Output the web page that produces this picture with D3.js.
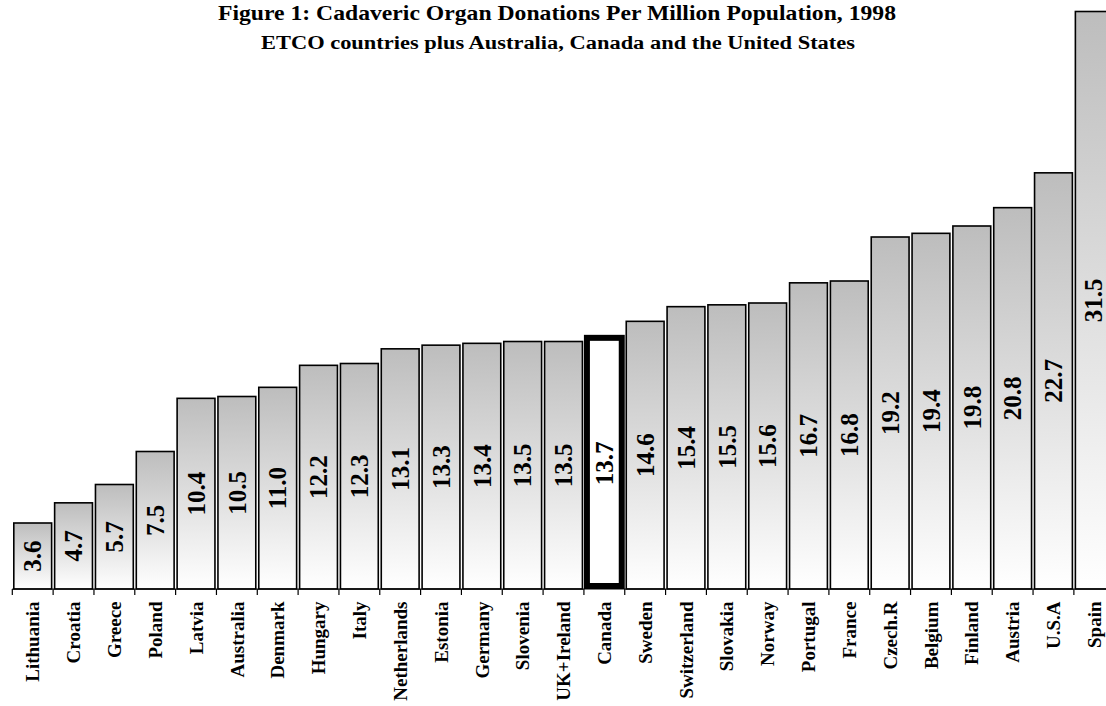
<!DOCTYPE html>
<html>
<head>
<meta charset="utf-8">
<script src="https://cdn.jsdelivr.net/npm/d3@7"></script>
<style>
  body { margin: 0; background: #fff; }
  svg { display: block; font-family: "Liberation Serif", "Times New Roman", serif; }
</style>
</head>
<body>
<div id="chart"></div>
<script>
// Data
const countries = ["Lithuania", "Croatia", "Greece", "Poland", "Latvia", "Australia", "Denmark",
  "Hungary", "Italy", "Netherlands", "Estonia", "Germany", "Slovenia", "UK+Ireland", "Canada",
  "Sweden", "Switzerland", "Slovakia", "Norway", "Portugal", "France", "Czech.R", "Belgium",
  "Finland", "Austria", "U.S.A", "Spain"];
const donations = [3.6, 4.7, 5.7, 7.5, 10.4, 10.5, 11.0, 12.2, 12.3, 13.1, 13.3, 13.4, 13.5, 13.5,
  13.7, 14.6, 15.4, 15.5, 15.6, 16.7, 16.8, 19.2, 19.4, 19.8, 20.8, 22.7, 31.5];
const highlight = "Canada";

const W = 1106, H = 706;
const left = 12.3, step = 40.83, baseY = 589;

const svg = d3.select("#chart").append("svg")
  .attr("width", W)
  .attr("height", H);

const grad = svg.append("defs").append("linearGradient")
  .attr("id", "barGrad")
  .attr("x1", 0).attr("y1", 0).attr("x2", 0).attr("y2", 1);
grad.append("stop").attr("offset", "0%").attr("stop-color", "#bdbdbd");
grad.append("stop").attr("offset", "100%").attr("stop-color", "#ffffff");

const x = d3.scaleBand()
  .domain(countries)
  .range([left, left + step * countries.length])
  .paddingInner(0)
  .paddingOuter(0);

// 31.5 maps to ~11.5px from top
const y = d3.scaleLinear()
  .domain([0, 31.5])
  .range([baseY, 11.5]);

const bars = svg.append("g");

bars.selectAll("rect")
  .data(countries)
  .enter()
  .append("rect")
  .attr("x", d => x(d) + (d === highlight ? 3 : 1.5))
  .attr("y", (d, i) => y(donations[i]))
  .attr("width", d => x.bandwidth() - (d === highlight ? 6 : 3))
  .attr("height", (d, i) => baseY - y(donations[i]) - (d === highlight ? 3 : 0))
  .attr("fill", d => d === highlight ? "#ffffff" : "url(#barGrad)")
  .attr("stroke", "#000")
  .attr("stroke-width", d => d === highlight ? 6 : 1.6);

// value labels, centred in each bar
bars.selectAll("text.value")
  .data(countries)
  .enter()
  .append("text")
  .attr("class", "value")
  .attr("transform", (d, i) => {
    const cx = x(d) + x.bandwidth() / 2 - (i === countries.length - 1 ? 1.5 : 0);
    const cy = (y(donations[i]) + baseY) / 2;
    return `translate(${cx},${cy}) rotate(-90)`;
  })
  .attr("text-anchor", "middle")
  .attr("dy", "0.35em")
  .attr("font-size", 25)
  .attr("font-weight", "bold")
  .text((d, i) => donations[i].toFixed(1));

// axis
const axis = svg.append("g")
  .attr("transform", `translate(0,${baseY})`);

axis.append("line")
  .attr("x1", left).attr("x2", W + 20)
  .attr("stroke", "#000").attr("stroke-width", 1.2);

axis.selectAll("line.tick")
  .data(countries)
  .enter()
  .append("line")
  .attr("class", "tick")
  .attr("x1", d => x(d)).attr("x2", d => x(d))
  .attr("y1", 0).attr("y2", 6)
  .attr("stroke", "#000").attr("stroke-width", 1.2);

axis.selectAll("text")
  .data(countries)
  .enter()
  .append("text")
  .attr("transform", d => `translate(${x(d) + x.bandwidth() / 2},12.5) rotate(-90)`)
  .attr("text-anchor", "end")
  .attr("dy", "0.35em")
  .attr("font-size", 19)
  .attr("font-weight", "bold")
  .text(d => d);

// titles
svg.append("text")
  .attr("x", 557).attr("y", 19.7)
  .attr("text-anchor", "middle")
  .attr("font-size", 22)
  .attr("font-weight", "bold")
  .attr("textLength", 678)
  .attr("lengthAdjust", "spacingAndGlyphs")
  .text("Figure 1: Cadaveric Organ Donations Per Million Population, 1998");

svg.append("text")
  .attr("x", 558).attr("y", 49)
  .attr("text-anchor", "middle")
  .attr("font-size", 18)
  .attr("font-weight", "bold")
  .attr("textLength", 594)
  .attr("lengthAdjust", "spacingAndGlyphs")
  .text("ETCO countries plus Australia, Canada and the United States");
</script>
</body>
</html>
